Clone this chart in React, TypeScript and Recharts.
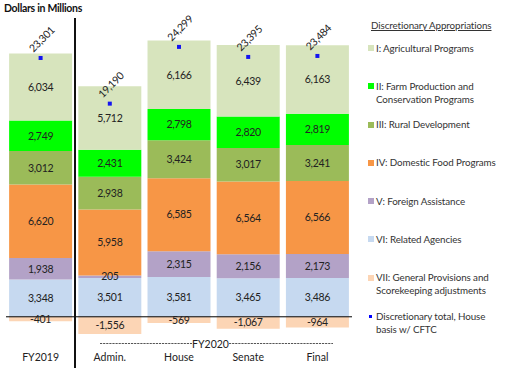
import React from "react";
import {
  ComposedChart,
  Bar,
  Scatter,
  XAxis,
  YAxis,
  ReferenceLine,
  LabelList,
  Legend,
} from "recharts";

const categories = ["FY2019", "Admin.", "House", "Senate", "Final"];
const agricultural = [6034, 5712, 6166, 6439, 6163];
const farmProduction = [2749, 2431, 2798, 2820, 2819];
const ruralDevelopment = [3012, 2938, 3424, 3017, 3241];
const domesticFood = [6620, 5958, 6585, 6564, 6566];
const foreignAssistance = [1938, 205, 2315, 2156, 2173];
const relatedAgencies = [3348, 3501, 3581, 3465, 3486];
const generalProvisions = [-401, -1556, -569, -1067, -964];
const discretionaryTotal = [23301, 19190, 24299, 23395, 23484];

const FONT = "Lato, 'Noto Sans', sans-serif";

// bottom of the stack first
const series = [
  { key: "relatedAgencies", name: "VI: Related Agencies", color: "#C6D9F0", values: relatedAgencies },
  { key: "foreignAssistance", name: "V: Foreign Assistance", color: "#B3A2C7", values: foreignAssistance },
  { key: "domesticFood", name: "IV: Domestic Food Programs", color: "#F79646", values: domesticFood },
  { key: "ruralDevelopment", name: "III: Rural Development", color: "#9BBB59", values: ruralDevelopment },
  { key: "farmProduction", name: "II: Farm Production and Conservation Programs", color: "#00FF00", values: farmProduction },
  { key: "agricultural", name: "I: Agricultural Programs", color: "#D7E4BD", values: agricultural },
  { key: "generalProvisions", name: "VII: General Provisions and Scorekeeping adjustments", color: "#FCD5B5", values: generalProvisions },
];

const legendItems = [
  { name: ["I: Agricultural Programs"], color: "#D7E4BD" },
  { name: ["II: Farm Production and", "Conservation Programs"], color: "#00FF00" },
  { name: ["III: Rural Development"], color: "#9BBB59" },
  { name: ["IV: Domestic Food Programs"], color: "#F79646" },
  { name: ["V: Foreign Assistance"], color: "#B3A2C7" },
  { name: ["VI: Related Agencies"], color: "#C6D9F0" },
  { name: ["VII: General Provisions and", "Scorekeeping adjustments"], color: "#FCD5B5" },
  { name: ["Discretionary total, House", "basis w/ CFTC"], color: "#0000FF", dot: true },
];

const data = categories.map((c, i) => {
  const row: Record<string, string | number> = { category: c, total: discretionaryTotal[i] };
  series.forEach((s) => (row[s.key] = s.values[i]));
  return row;
});

const fmt = (v: any) => Number(v).toLocaleString("en-US");

const TotalMark = (props: any) => {
  const { cx, cy, payload } = props;
  const lx = cx + 1;
  const ly = cy - 19;
  return (
    <g>
      <rect x={cx - 2} y={cy - 2} width={4} height={4} fill="#1414F0" />
      <text
        x={lx}
        y={ly}
        transform={`rotate(-45, ${lx}, ${ly})`}
        textAnchor="middle"
        dominantBaseline="central"
        fontSize={10.5}
        letterSpacing={-0.3}
        fontFamily={FONT}
        fill="#222"
      >
        {fmt(payload.total)}
      </text>
    </g>
  );
};

const LegendBox = () => (
  <div style={{ fontFamily: FONT, fontSize: 9.8, letterSpacing: -0.1, color: "#333", lineHeight: "13px" }}>
    <div style={{ textDecoration: "underline", height: 22.5, paddingLeft: 4 }}>
      Discretionary Appropriations
    </div>
    {legendItems.map((it) => (
      <div key={it.name[0]} style={{ display: "flex", height: 38.3 }}>
        <div style={{ width: 9, height: 13, display: "flex", alignItems: "center" }}>
          {it.dot ? (
            <div style={{ width: 3, height: 3, marginLeft: 2, background: it.color }} />
          ) : (
            <div style={{ width: 6, height: 6, marginLeft: 1, background: it.color }} />
          )}
        </div>
        <div>
          {it.name.map((l) => (
            <div key={l} style={{ whiteSpace: "nowrap" }}>{l}</div>
          ))}
        </div>
      </div>
    ))}
  </div>
);

export default function App() {
  return (
    <div style={{ position: "absolute", left: 0, top: 0, width: 507, height: 368, background: "#fff", overflow: "hidden" }}>
      <div
        style={{
          position: "absolute",
          left: 4,
          top: 2,
          fontFamily: FONT,
          fontWeight: 700,
          fontSize: 10.5,
          letterSpacing: -0.3,
          color: "#111",
        }}
      >
        Dollars in Millions
      </div>
      <ComposedChart
        width={507}
        height={368}
        data={data}
        stackOffset="sign"
        margin={{ top: 28, right: 155, bottom: 0, left: 6 }}
        barCategoryGap="4.5%"
      >
        <XAxis
          dataKey="category"
          axisLine={false}
          tickLine={false}
          height={29}
          tickMargin={9}
          tick={{ fontSize: 10.5, fontFamily: FONT, fill: "#222" }}
        />
        <YAxis hide domain={[-2000, 26000]} />
        {series.map((s) => (
          <Bar key={s.key} dataKey={s.key} name={s.name} stackId="a" fill={s.color} isAnimationActive={false}>
            <LabelList
              dataKey={s.key}
              position="center"
              formatter={fmt}
              style={{ fontSize: 10.5, letterSpacing: -0.3, fontFamily: FONT, fill: "#222" }}
            />
          </Bar>
        ))}
        <ReferenceLine y={0} stroke="#000" strokeWidth={1} />
        <Scatter dataKey="total" name="Discretionary total" shape={TotalMark} isAnimationActive={false} />
        <Legend
          layout="vertical"
          align="center"
          verticalAlign="middle"
          content={LegendBox}
          wrapperStyle={{ left: 367, top: 19, width: 140 }}
        />
      </ComposedChart>
      <svg
        width={507}
        height={368}
        style={{ position: "absolute", left: 0, top: 0, pointerEvents: "none" }}
      >
        <line x1={75} y1={18} x2={75} y2={368} stroke="#111" strokeWidth={2} />
        <line x1={100} y1={343.5} x2={192} y2={343.5} stroke="#555" strokeWidth={1} strokeDasharray="2.2 0.9" />
        <text x={210.5} y={343.5} textAnchor="middle" dominantBaseline="central" fontSize={10.5} fontFamily={FONT} fill="#222">
          FY2020
        </text>
        <line x1={229} y1={343.5} x2={333} y2={343.5} stroke="#555" strokeWidth={1} strokeDasharray="2.2 0.9" />
      </svg>
    </div>
  );
}
